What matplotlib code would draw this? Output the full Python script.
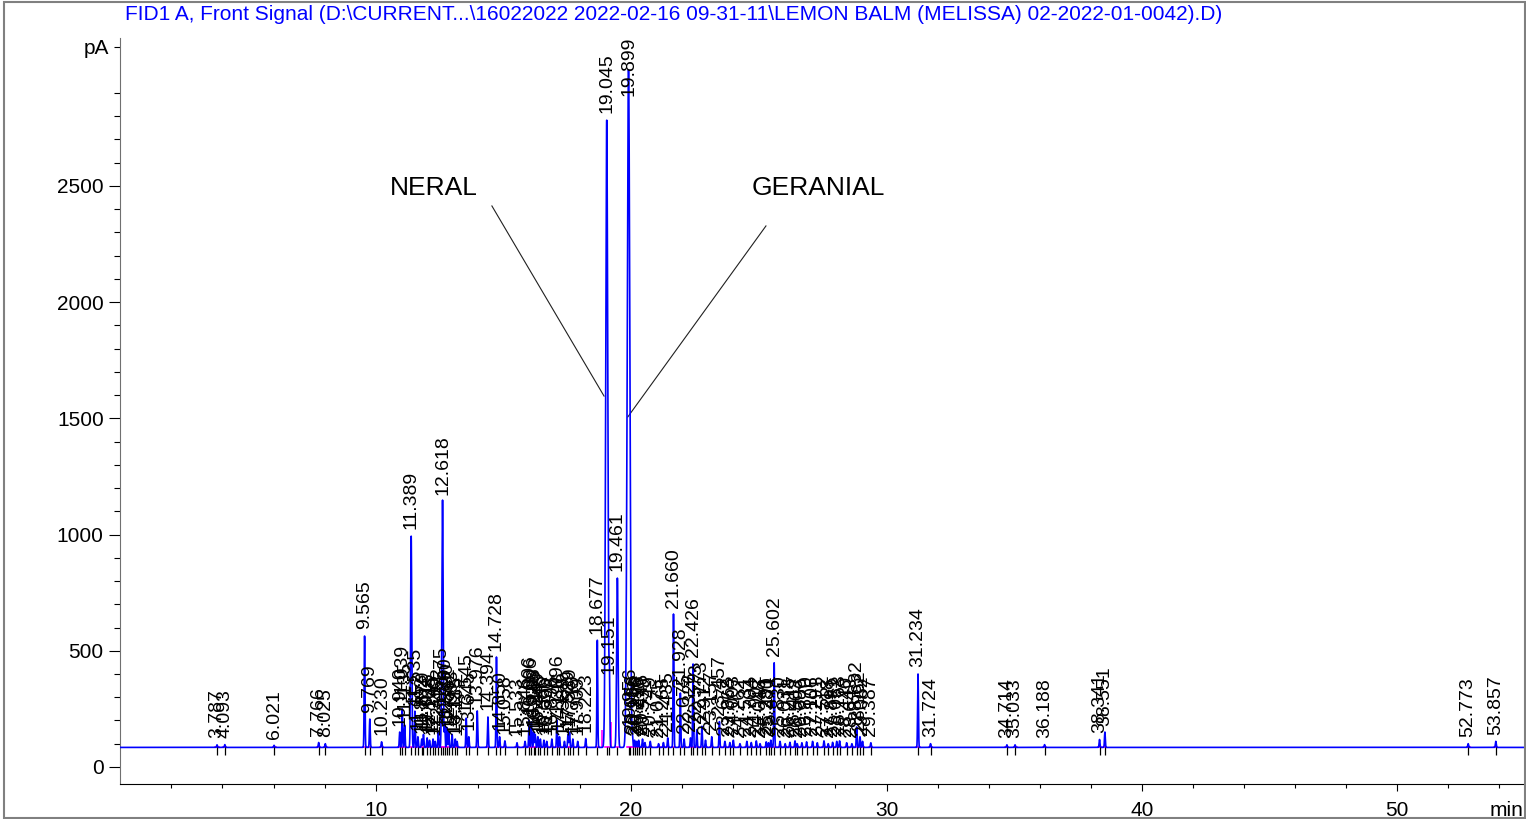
import numpy as np
import matplotlib.pyplot as plt
from matplotlib.patches import Rectangle
from matplotlib.ticker import FixedLocator, FuncFormatter, NullFormatter

TITLE = ("FID1 A, Front Signal (D:\\CURRENT...\\16022022 2022-02-16 09-31-11"
         "\\LEMON BALM (MELISSA) 02-2022-01-0042).D)")

BASELINE = 84

# retention time (min) and apex height (pA)
PEAK_RT = [
    3.787, 4.093, 6.021, 7.766, 8.025, 9.565, 9.769, 10.230,
    10.940, 11.039, 11.135, 11.389, 11.535, 11.652, 11.802, 11.870, 12.013,
    12.108, 12.245, 12.330, 12.452, 12.575, 12.618, 12.700, 12.790, 12.862,
    12.993, 13.115, 13.185, 13.545, 13.645, 13.976, 14.394, 14.728, 14.850,
    15.058, 15.533,
    15.846, 16.006, 16.096, 16.186, 16.246, 16.349, 16.446, 16.586, 16.696,
    16.896, 17.096, 17.196, 17.389, 17.529, 17.589, 17.719, 17.909, 18.223,
    18.677,
    19.045, 19.151, 19.461, 19.899, 19.956, 20.056, 20.136, 20.216, 20.296,
    20.446, 20.539, 20.749, 21.075, 21.265, 21.435, 21.660, 21.928, 22.075,
    22.326, 22.426, 22.573, 22.773, 22.912, 23.157, 23.457,
    23.672, 23.868, 24.003, 24.262, 24.531, 24.704, 24.902, 25.048, 25.291,
    25.380, 25.471, 25.602, 25.830, 26.031, 26.218, 26.417, 26.503, 26.686,
    26.870, 27.106, 27.291, 27.552, 27.718, 27.891, 28.052, 28.163, 28.440,
    28.643, 28.832, 28.962, 29.062, 29.387,
    31.234, 31.724, 34.714, 35.033, 36.188, 38.341, 38.551, 52.773, 53.857,
]
PEAK_PA = [
    95, 96, 93, 105, 100, 564, 206, 108,
    150, 250, 180, 994, 240, 130, 120, 140, 125,
    115, 120, 110, 150, 240, 1144, 190, 170, 150,
    140, 120, 110, 210, 130, 241, 215, 473, 130,
    112, 104,
    110, 200, 194, 150, 140, 130, 120, 115, 110,
    120, 202, 130, 110, 140, 150, 120, 110, 122,
    546,
    2784, 374, 813, 3000, 150, 120, 115, 110, 115,
    120, 105, 110, 100, 105, 125, 658, 318, 120,
    125, 443, 160, 175, 115, 130, 195,
    110, 105, 115, 100, 110, 105, 112, 100, 108,
    104, 115, 448, 110, 100, 106, 112, 100, 104,
    108, 110, 104, 112, 100, 106, 110, 112, 104,
    100, 172, 130, 110, 104,
    400, 100, 95, 95, 96, 118, 150, 100, 110,
]

# wider peaks (sigma in min), everything else uses the default
WIDE = {19.045: 0.04, 19.899: 0.05, 19.461: 0.028, 12.618: 0.022, 11.389: 0.022}
SIGMA = 0.016

# integration drop lines under the main cluster
DROP_RT = [18.88, 19.22]
DROP_PA = [160, 195]

NERAL_LINE_X = [14.55, 18.94]
NERAL_LINE_Y = [2414, 1596]
GERANIAL_LINE_X = [25.28, 19.87]
GERANIAL_LINE_Y = [2328, 1506]

FONT = ["Liberation Sans", "DejaVu Sans"]
plt.rcParams["font.family"] = FONT

W, H = 1526, 819
fig = plt.figure(figsize=(W / 100, H / 100), dpi=100)
ax = fig.add_axes([120.3 / W, 35.1 / H, 1404.7 / W, 745.5 / H])
ax.set_xlim(0, 55)
ax.set_ylim(-73, 3135)

t = np.arange(0, 55, 0.002)
sig = np.full_like(t, BASELINE, dtype=float)
for rt, h in zip(PEAK_RT, PEAK_PA):
    s = WIDE.get(rt, SIGMA)
    sig += (h - BASELINE) * np.exp(-0.5 * ((t - rt) / s) ** 2)
ax.plot(t, sig, color="#0000ff", lw=1.2, zorder=3)

# integration baselines and peak marks
for rt in PEAK_RT:
    ax.plot([rt - 0.06, rt + 0.06], [BASELINE, BASELINE], color="#ff00ff", lw=1.2, zorder=2)
ax.vlines(DROP_RT, BASELINE, DROP_PA, color="#ff00ff", lw=1.2, zorder=2)
ax.vlines(PEAK_RT, BASELINE - 32, BASELINE + 2, color="black", lw=0.9, zorder=4)

for rt, h in zip(PEAK_RT, PEAK_PA):
    y = min(h + 28, 2885)
    ax.text(rt, y, f"{rt:.3f}", rotation=90, ha="center", va="bottom",
            fontsize=14, zorder=5)

ax.text(10.55, 2461, "NERAL", fontsize=19, ha="left", va="baseline")
ax.text(24.73, 2461, "GERANIAL", fontsize=19, ha="left", va="baseline")
ax.plot(NERAL_LINE_X, NERAL_LINE_Y, color="#202020", lw=0.8)
ax.plot(GERANIAL_LINE_X, GERANIAL_LINE_Y, color="#202020", lw=0.8)

for side in ["top", "right"]:
    ax.spines[side].set_visible(False)
ax.spines["left"].set_color("#707070")
ax.spines["bottom"].set_color("black")

ax.set_xticks([10, 20, 30, 40, 50])
ax.xaxis.set_minor_locator(FixedLocator([v for v in range(2, 55, 2) if v % 10]))
ax.set_yticks([0, 500, 1000, 1500, 2000, 2500])
ax.yaxis.set_minor_locator(FixedLocator([v for v in range(100, 3101, 100) if v % 500]))
ax.yaxis.set_minor_formatter(FuncFormatter(lambda v, p: "pA" if v == 3100 else ""))
ax.xaxis.set_minor_formatter(NullFormatter())

ax.tick_params(axis="y", which="major", length=8, width=0.8, labelsize=15, pad=4)
ax.tick_params(axis="y", which="minor", length=4, width=0.8, labelsize=15, pad=4)
ax.tick_params(axis="x", which="major", length=5, width=0.8, labelsize=15, pad=7)
ax.tick_params(axis="x", which="minor", length=3.2, width=0.8)

ax.text(54.95, -0.023, "min", transform=ax.get_xaxis_transform(), fontsize=15,
        ha="right", va="top")

fig.text(125 / W, 1 - 15 / H, TITLE, color="#0000ff", fontsize=15,
         ha="left", va="center")

fig.patches.append(Rectangle((4 / W, 1 / H), 1521 / W, 816 / H, transform=fig.transFigure,
                             fill=False, edgecolor="#808080", lw=1.5))

fig.savefig("out.png", dpi=100)
